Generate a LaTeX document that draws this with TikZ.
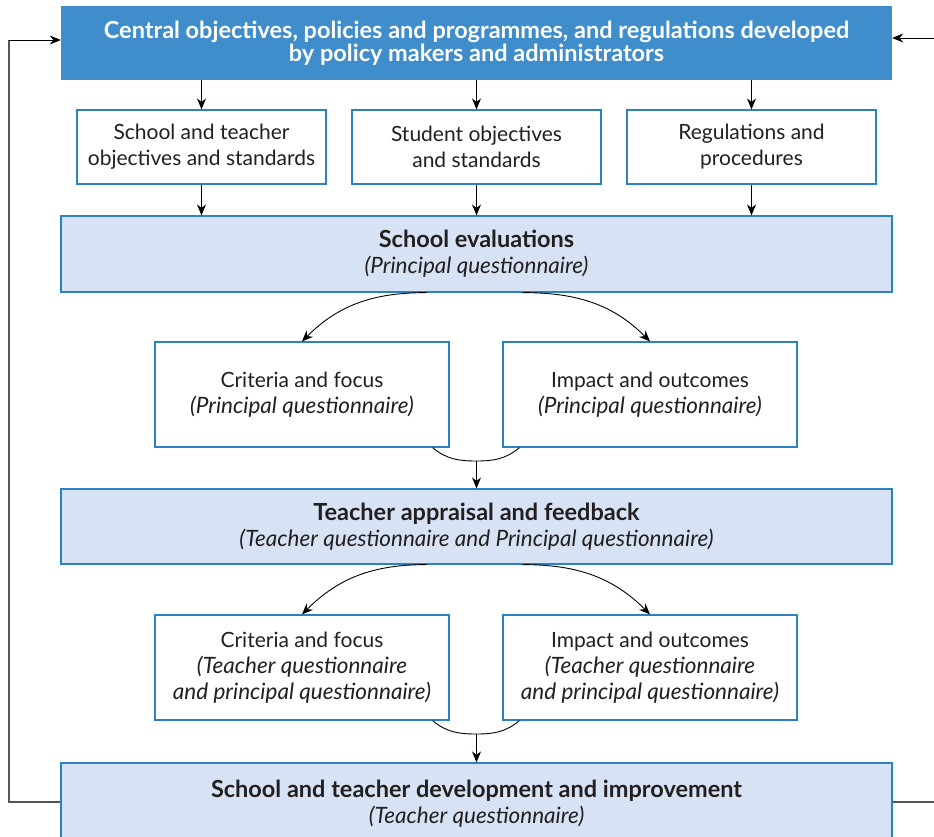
\documentclass[tikz,border=0pt]{standalone}
\usepackage{fontspec}
\setmainfont{Lato}
\usepackage{xcolor}
\usetikzlibrary{arrows.meta,positioning,calc}
\definecolor{tb}{HTML}{3F8DCB}
\definecolor{bd}{HTML}{2A82C4}
\definecolor{lb}{HTML}{D7E3F4}
\definecolor{tx}{HTML}{231F20}
\definecolor{fb}{HTML}{555555}
\newcommand{\Bf}[1]{{\fontsize{23.5}{27}\selectfont\bfseries #1}}
\newcommand{\It}[1]{{\fontsize{22.5}{26}\selectfont\itshape #1}}
\newcommand{\Qn}[1]{\It{(#1)}}

\begin{document}
\begin{tikzpicture}[x=1pt,y=-1pt,
    font=\fontsize{21}{26}\selectfont, text=tx,
    topbox/.style={fill=tb, text=white, minimum width=831pt, minimum height=74pt,
      inner sep=0pt, align=center, font=\fontsize{23.5}{23}\selectfont\bfseries},
    bandbox/.style={fill=lb, draw=bd, line width=1.2pt, minimum width=831pt,
      inner sep=0pt, align=center},
    stepbox/.style={fill=white, draw=bd, line width=1.2pt, inner sep=0pt, align=center},
    arr/.style={-{Stealth[length=11pt,width=9pt]}, line width=0.9pt, black},
    fbline/.style={fb, line width=1.2pt}]
  \useasboundingbox (0,0) rectangle (934,836);
  \clip (0,0) rectangle (934,836);
  % central level
  \node[topbox] (top) at (476.5,43) {Central objectives, policies and programmes, and regulations developed\\by policy makers and administrators};
  \node[stepbox, minimum width=249pt, minimum height=74pt] (sto) at (201.5,147) {School and teacher\\objectives and standards};
  \node[stepbox, minimum width=249pt, minimum height=74pt] (sdo) at (476.5,147) {Student objectives\\and standards};
  \node[stepbox, minimum width=249pt, minimum height=74pt] (reg) at (751.5,147) {Regulations and\\procedures};
  \foreach \n in {sto,sdo,reg}{
    \draw[arr] (top.south -| \n) -- (\n);
  }
  % school evaluations
  \node[bandbox, minimum height=76pt] (eval) at (476.5,254) {\Bf{School evaluations}\\\Qn{Principal questionnaire}};
  \foreach \n in {sto,sdo,reg}{
    \draw[arr] (\n) -- (eval.north -| \n);
  }
  \node[stepbox, minimum width=294pt, minimum height=105pt] (crit1) at (302,394.5) {Criteria and focus\\\Qn{Principal questionnaire}};
  \node[stepbox, minimum width=294pt, minimum height=105pt] (imp1) at (650,394.5) {Impact and outcomes\\\Qn{Principal questionnaire}};
  \draw[arr] ([xshift=-50pt]eval.south) to[out=180,in=45] (crit1.north);
  \draw[arr] ([xshift=46pt]eval.south) to[out=0,in=135] (imp1.north);
  \coordinate (m1) at (476.5,461);
  \draw[line width=0.9pt] ([xshift=-17pt]crit1.south east) to[out=-40,in=180] (m1)
    to[out=0,in=-140] ([xshift=17pt]imp1.south west);
  % teacher appraisal
  \node[bandbox, minimum height=75pt] (appr) at (476.5,526.5) {\Bf{Teacher appraisal and feedback}\\\Qn{Teacher questionnaire and Principal questionnaire}};
  \draw[arr] (m1) -- (appr);
  \node[stepbox, minimum width=294pt, minimum height=105pt] (crit2) at (302,667.5) {Criteria and focus\\\It{(Teacher questionnaire}\\\It{and principal questionnaire)}};
  \node[stepbox, minimum width=294pt, minimum height=105pt] (imp2) at (650,667.5) {Impact and outcomes\\\It{(Teacher questionnaire}\\\It{and principal questionnaire)}};
  \draw[arr] ([xshift=-50pt]appr.south) to[out=180,in=45] (crit2.north);
  \draw[arr] ([xshift=46pt]appr.south) to[out=0,in=135] (imp2.north);
  \coordinate (m2) at (476.5,734);
  \draw[line width=0.9pt] ([xshift=-17pt]crit2.south east) to[out=-40,in=180] (m2)
    to[out=0,in=-140] ([xshift=17pt]imp2.south west);
  % development
  \node[bandbox, minimum height=82pt] (dev) at (476.5,804) {\Bf{School and teacher development and improvement}\\\Qn{Teacher questionnaire}};
  \draw[arr] (m2) -- (dev);
  % feedback loop
  \coordinate (lft) at (9,40);
  \coordinate (rgtb) at (940,802);
  \coordinate (rgtt) at (940,38);
  \draw[fbline] (dev.west |- rgtb) -| (lft);
  \draw[arr] (lft) -- (top.west |- lft);
  \draw[fbline] (dev.east |- rgtb) -- (rgtb);
  \draw[arr] (rgtt) -- (top.east |- rgtt);
\end{tikzpicture}
\end{document}
